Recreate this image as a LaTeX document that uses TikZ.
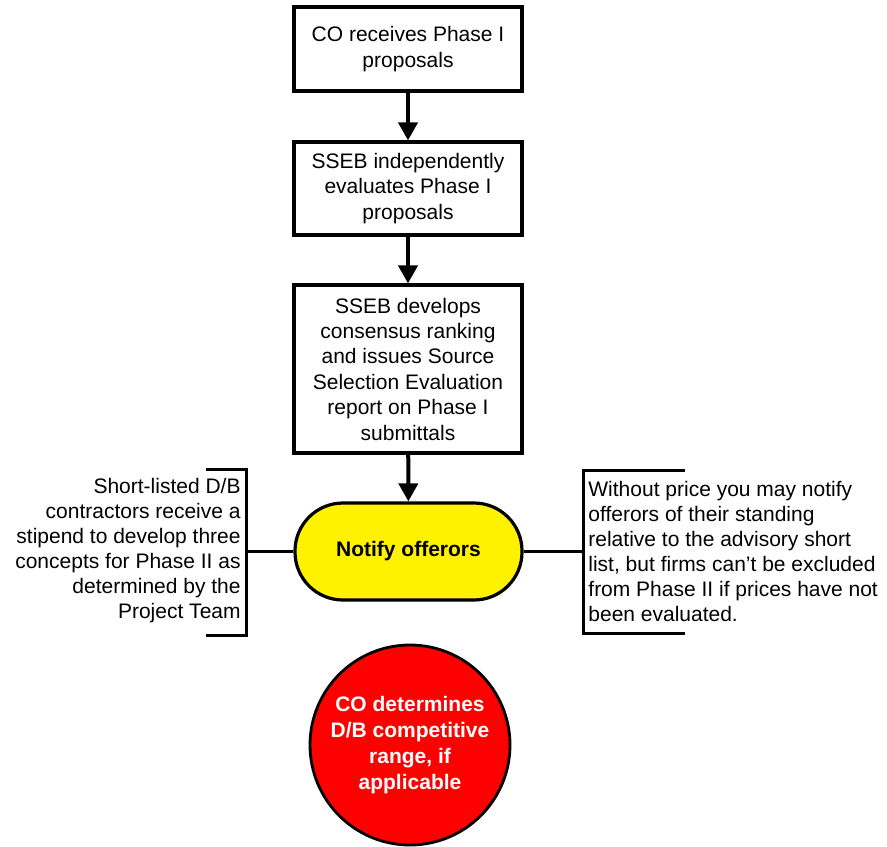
\documentclass[tikz,border=0pt]{standalone}
\usepackage{fontspec}
\setmainfont{Liberation Sans}
\usetikzlibrary{arrows.meta,positioning,calc}

\begin{document}
\begin{tikzpicture}[
  x=0.5pt, y=-0.5pt,
  stepbox/.style={draw=black, fill=white, line width=1.6pt, minimum width=114pt,
    align=center, inner sep=2pt, font=\fontsize{10.5}{12.7}\selectfont},
  term/.style={draw=black, fill=yellow, line width=1.6pt, rounded corners=24pt,
    minimum width=113.5pt, minimum height=48.5pt, align=center,
    font=\fontsize{10.5}{12.7}\selectfont\bfseries},
  endcirc/.style={circle, draw=black, fill=red, line width=1.4pt, minimum size=100pt,
    inner sep=0pt, align=center, text=white, font=\fontsize{10.5}{13}\selectfont\bfseries},
  note/.style={inner sep=0pt, font=\fontsize{10.5}{12.5}\selectfont},
  brk/.style={line width=1.5pt},
  link/.style={line width=1.2pt},
  arr/.style={-{Triangle[length=9pt,width=9.5pt]}, line width=2pt}
]
\useasboundingbox (0,0) rectangle (887,846);

\node[stepbox, minimum height=42pt] (rcv) at (408,49) {CO receives Phase I\\proposals};
\node[stepbox, minimum height=46.5pt] (eval) at (408,188.5) {SSEB independently\\evaluates Phase I\\proposals};
\node[stepbox, minimum height=84pt] (rank) at (408,369) {SSEB develops\\consensus ranking\\and issues Source\\Selection Evaluation\\report on Phase I\\submittals};
\node[term] (notify) at (408.5,551.5) {Notify offerors};
\node[endcirc] (range) at (410,745) {CO determines\\D/B competitive\\range, if\\applicable};

% side notes with brackets
\node[note, align=right, anchor=east] (stipend) at (241,551) {Short-listed D/B\\contractors receive a\\stipend to develop three\\concepts for Phase II as\\determined by the\\Project Team};
\node[note, align=left, anchor=west] (price) at (588,551.5) {Without price you may notify\\offerors of their standing\\relative to the advisory short\\list, but firms can’t be excluded\\from Phase II if prices have not\\been evaluated.};
\draw[brk] (206,469) -- (246.5,469) -- (246.5,635) -- (206,635);
\draw[brk] (685,470) -- (583,470) -- (583,633) -- (685,633);
\coordinate (lbrk) at (246.5,551.5);
\coordinate (rbrk) at (583,551.5);

\draw[arr] (rcv) -- (eval);
\draw[arr] (eval) -- (rank);
\draw[arr] (rank) -- (notify);
\draw[link] (notify.west) -- (lbrk);
\draw[link] (notify.east) -- (rbrk);
\end{tikzpicture}
\end{document}
